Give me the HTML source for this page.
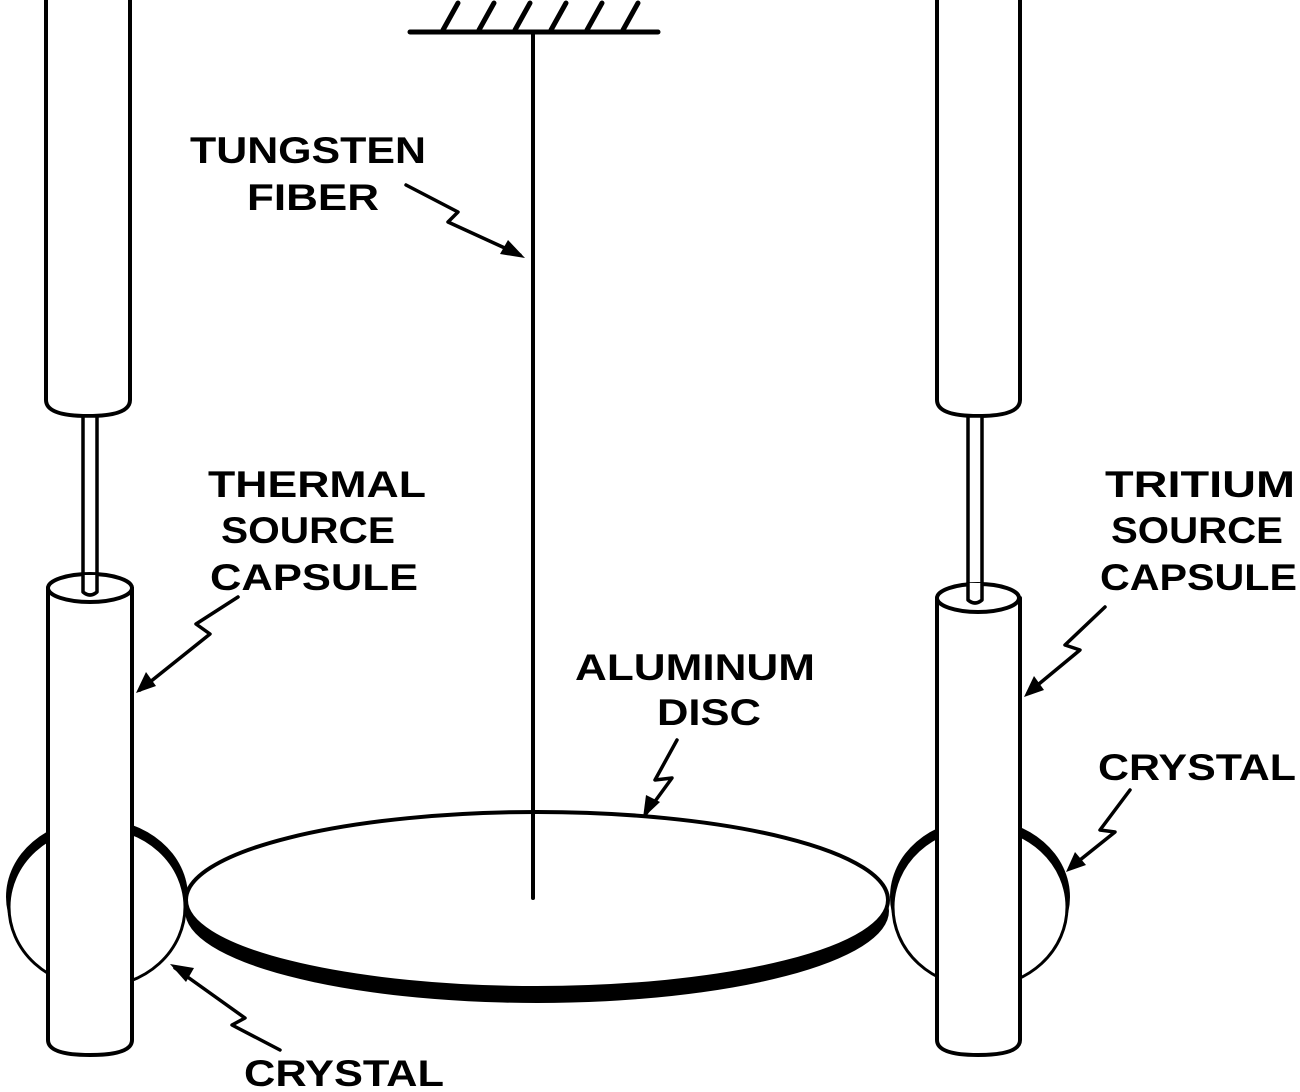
<!DOCTYPE html>
<html><head><meta charset="utf-8"><style>
html,body{margin:0;padding:0;background:#fff;}
svg{display:block}
text{font-family:"Liberation Sans",sans-serif;font-size:37px;fill:#000;font-weight:bold;}
</style></head><body>
<svg width="1300" height="1092" viewBox="0 0 1300 1092" xmlns="http://www.w3.org/2000/svg">
<g stroke="#000" fill="none" stroke-width="4" stroke-linecap="round" stroke-linejoin="round">
<line x1="410" y1="32" x2="658" y2="32" stroke-width="5"/>
<g stroke-width="5">
<line x1="443" y1="30" x2="458" y2="3"/><line x1="479" y1="30" x2="494" y2="3"/><line x1="515" y1="30" x2="530" y2="3"/><line x1="551" y1="30" x2="566" y2="3"/><line x1="587" y1="30" x2="602" y2="3"/><line x1="623" y1="30" x2="638" y2="3"/>
</g>
<line x1="533" y1="32" x2="533" y2="898" stroke-width="4"/>

<!-- disc -->
<ellipse cx="537" cy="911" rx="352" ry="92" fill="#000" stroke="none"/>
<ellipse cx="537" cy="900" rx="351" ry="88" fill="#fff" stroke-width="4"/>
<line x1="533" y1="812" x2="533" y2="898" stroke-width="4"/>

<!-- left crystal -->
<ellipse cx="97" cy="897" rx="91" ry="78" fill="#000" stroke="none"/>
<ellipse cx="97" cy="907" rx="88" ry="80" fill="#fff" stroke-width="3"/>
<!-- right crystal -->
<ellipse cx="980" cy="897" rx="90" ry="78" fill="#000" stroke="none"/>
<ellipse cx="980" cy="907" rx="87" ry="80" fill="#fff" stroke-width="3"/>

<!-- left upper tube -->
<path d="M46 0 V400 Q46 416 88 416 Q130 416 130 400 V0" fill="#fff"/>
<rect x="83" y="416" width="14" height="178" fill="#fff" stroke-width="3.5"/>
<path d="M48 588 V1040 Q48 1055 90 1055 Q132 1055 132 1040 V588" fill="#fff"/>
<ellipse cx="90" cy="588" rx="42" ry="14" fill="#fff"/>
<path d="M83 575 V592 Q90 598 97 592 V575" fill="#fff" stroke-width="3.5"/>

<!-- right upper tube -->
<path d="M937 0 V400 Q937 416 978 416 Q1020 416 1020 400 V0" fill="#fff"/>
<rect x="968" y="416" width="14" height="178" fill="#fff" stroke-width="3.5"/>
<path d="M937 598 V1040 Q937 1055 978 1055 Q1020 1055 1020 1040 V598" fill="#fff"/>
<ellipse cx="978" cy="598" rx="41" ry="14" fill="#fff"/>
<path d="M968 583 V600 Q975 606 982 600 V583" fill="#fff" stroke-width="3.5"/>

<!-- leaders -->
<g stroke-width="3.5">
<path d="M406 185 L458 212 L448 222 L520 255"/>
<path d="M238 597 L196 624 L210 634 L140 690"/>
<path d="M677 740 L655 780 L672 778 L645 815"/>
<path d="M1105 607 L1065 645 L1080 650 L1028 693"/>
<path d="M1130 790 L1100 830 L1115 832 L1070 868"/>
<path d="M280 1050 L232 1025 L245 1018 L175 968"/>
</g>
</g>
<g fill="#000">
<polygon points="525,258 500,254 508,240"/>
<polygon points="136,693 146,672 156,686"/>
<polygon points="643,818 646,795 660,802"/>
<polygon points="1024,697 1034,676 1044,690"/>
<polygon points="1066,872 1075,852 1086,865"/>
<polygon points="170,964 194,968 186,982"/>
</g>
<g>
<text x="190" y="163" textLength="236" lengthAdjust="spacingAndGlyphs">TUNGSTEN</text>
<text x="247" y="210" textLength="132" lengthAdjust="spacingAndGlyphs">FIBER</text>
<text x="208" y="497" textLength="218" lengthAdjust="spacingAndGlyphs">THERMAL</text>
<text x="221" y="543" textLength="174" lengthAdjust="spacingAndGlyphs">SOURCE</text>
<text x="210" y="590" textLength="208" lengthAdjust="spacingAndGlyphs">CAPSULE</text>
<text x="1105" y="497" textLength="190" lengthAdjust="spacingAndGlyphs">TRITIUM</text>
<text x="1111" y="543" textLength="172" lengthAdjust="spacingAndGlyphs">SOURCE</text>
<text x="1100" y="590" textLength="197" lengthAdjust="spacingAndGlyphs">CAPSULE</text>
<text x="575" y="680" textLength="240" lengthAdjust="spacingAndGlyphs">ALUMINUM</text>
<text x="657" y="725" textLength="104" lengthAdjust="spacingAndGlyphs">DISC</text>
<text x="1098" y="780" textLength="198" lengthAdjust="spacingAndGlyphs">CRYSTAL</text>
<text x="244" y="1086" textLength="200" lengthAdjust="spacingAndGlyphs">CRYSTAL</text>
</g>
</svg>
</body></html>
